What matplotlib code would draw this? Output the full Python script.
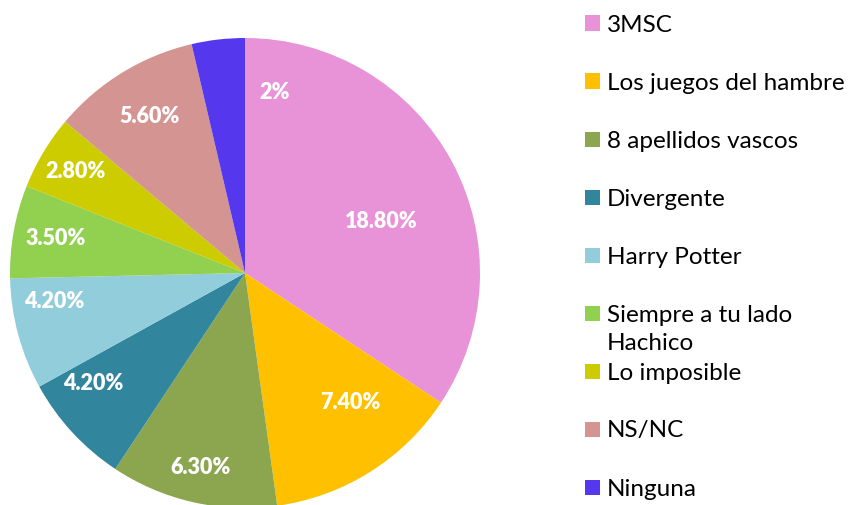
import matplotlib
matplotlib.use("Agg")
import matplotlib.pyplot as plt
from matplotlib.patches import Rectangle
import numpy as np

categories = ["3MSC", "Los juegos del hambre", "8 apellidos vascos", "Divergente",
              "Harry Potter", "Siempre a tu lado\nHachico", "Lo imposible", "NS/NC", "Ninguna"]
values = [18.80, 7.40, 6.30, 4.20, 4.20, 3.50, 2.80, 5.60, 2.0]
labels = ["18.80%", "7.40%", "6.30%", "4.20%", "4.20%", "3.50%", "2.80%", "5.60%", "2%"]
colors = ["#E892D7", "#FFC000", "#8CA650", "#31859C", "#92CDDC", "#92D050", "#CCCC00", "#D49492", "#5538EE"]

W, H = 851, 505
fig = plt.figure(figsize=(W / 100, H / 100), dpi=100)
ax = fig.add_axes([10 / W, (H - 273 - 235) / H, 470 / W, 470 / H])
wedges, _ = ax.pie(values, colors=colors, startangle=90, counterclock=False,
                   radius=1.0, wedgeprops=dict(linewidth=0))
ax.set_xlim(-1, 1)
ax.set_ylim(-1, 1)
ax.set_aspect("equal")
ax.axis("off")

rfrac = [0.62, 0.71, 0.85, 0.80, 0.82, 0.82, 0.84, 0.78, 0.78]
aoff = [-7.6, 6.8, 0, -6.7, -6.7, 0, 0, 0, -16]
for w, lab, r, d in zip(wedges, labels, rfrac, aoff):
    mid = np.deg2rad((w.theta1 + w.theta2) / 2 + d)
    ax.text(r * np.cos(mid), r * np.sin(mid), lab, ha="center", va="center",
            color="white", fontweight="heavy", fontsize=15.5, family="Lato")

y0 = 23
for i, (cat, col) in enumerate(zip(categories, colors)):
    yc = y0 + 58 * i
    fig.add_artist(Rectangle((585 / W, (H - yc - 7.5) / H), 15 / W, 15 / H,
                             transform=fig.transFigure, facecolor=col, edgecolor="none"))
    lines = cat.split("\n")
    for j, ln in enumerate(lines):
        fig.text(607 / W, (H - yc - 29 * j) / H, ln, ha="left", va="center_baseline",
                 fontsize=17.5, family="Lato", color="black")

fig.savefig("out.png", dpi=100)
